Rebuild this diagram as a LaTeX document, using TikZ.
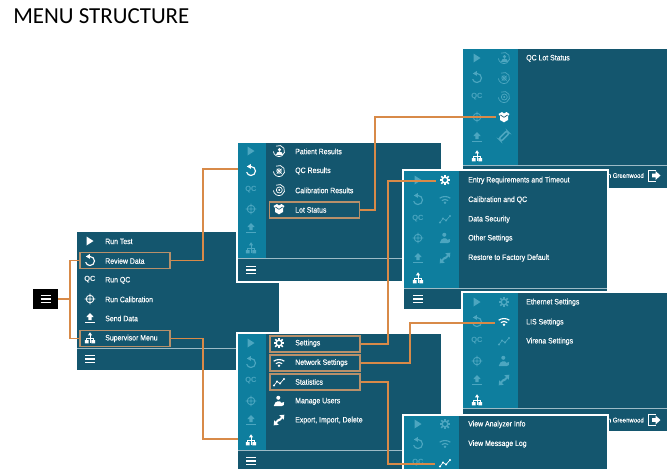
\documentclass[tikz,border=0pt]{standalone}
\usepackage{fontspec}
\setmainfont{Liberation Sans}
\newfontfamily\titlefont{Carlito}
\newfontfamily\rowfont[FakeStretch=0.88,FakeBold=0.1]{Liberation Sans}
\definecolor{panelc}{HTML}{14566E}
\definecolor{sidec}{HTML}{0E7E9E}
\definecolor{sidedark}{HTML}{0E7E9E}
\definecolor{fadec}{HTML}{4CA6C0}
\definecolor{sepc}{HTML}{9DBBC6}
\definecolor{connc}{HTML}{D88A48}
\definecolor{boxc}{HTML}{B8906A}
\tikzset{
  panel/.style={fill=panelc,draw=none},
  whitep/.style={fill=white,draw=none},
  sidep/.style={fill=sidec,draw=none},
  sidepb/.style={fill=sidedark,draw=none},
  sepl/.style={draw=sepc,line width=.6pt},
  hbox/.style={draw=boxc,line width=1.2pt,fill=none,minimum width=67.5pt,minimum height=12pt,inner sep=0pt},
  conn/.style={draw=connc,line width=.8pt},
  rowt/.style={text=white,font=\fontsize{5.9pt}{6pt}\rowfont,anchor=west,inner sep=0pt,yshift=-.3pt},
  namet/.style={text=white,font=\fontsize{5.1pt}{6pt}\rowfont,anchor=east,inner sep=0pt},
  qct/.style={font=\fontsize{5.6pt}{6pt}\selectfont\bfseries,inner sep=0pt},
}
\newcommand{\iplay}[3]{\fill[#3] (#1-3.5,#2-4.5) -- (#1+3.5,#2) -- (#1-3.5,#2+4.5) -- cycle;}
\newcommand{\iundo}[3]{\begin{scope}[shift={(#1,#2)}]\draw[#3,line width=.85pt] (0,-4.5) arc (-90:165:4.5);\fill[#3] (-4.2,-4.5) -- (-0.2,-7) -- (-0.2,-2.2) -- cycle;\end{scope}}
\newcommand{\iqc}[3]{\node[qct,text=#3] at (#1,#2) {QC};}
\newcommand{\itarget}[3]{\begin{scope}[shift={(#1,#2)}]\draw[#3,line width=.65pt] (0,0) circle (3.8) (-5.3,0) -- (5.3,0) (0,-5.3) -- (0,5.3);\end{scope}}
\newcommand{\iupload}[3]{\begin{scope}[shift={(#1,#2)}]\fill[#3] (0,-5) -- (3.7,-1) -- (1.6,-1) -- (1.6,2.2) -- (-1.6,2.2) -- (-1.6,-1) -- (-3.7,-1) -- cycle;\draw[#3,line width=.55pt] (-5,4.7) -- (5,4.7);\end{scope}}
\newcommand{\ihier}[3]{\begin{scope}[shift={(#1,#2)},scale=.72]\fill[#3] (0,-8) -- (3,-3.5) -- (-3,-3.5) -- cycle (-7,3) rectangle (-2,7.5) (2,3) rectangle (7,7.5);\draw[#3,line width=.5pt] (-4.5,3) -- (-4.5,0) -- (4.5,0) -- (4.5,3) (0,-3.5) -- (0,7);\end{scope}}
\newcommand{\iburger}[2]{\begin{scope}[shift={(#1,#2)}]\draw[white,line width=1pt] (-5,-3.5) -- (5,-3.5) (-5,0) -- (5,0) (-5,3.5) -- (5,3.5);\end{scope}}
\newcommand{\igear}[3]{\begin{scope}[shift={(#1,#2)}]\draw[#3,line width=1.1pt] (0,0) circle (2.9);\foreach \a in {0,45,...,315}{\draw[#3,line width=1.15pt] (\a:3.3) -- (\a:5.3);}\end{scope}}
\newcommand{\iwifi}[3]{\begin{scope}[shift={(#1,#2)}]\draw[#3,line width=.85pt] (-5.3,-1.8) .. controls (-2.5,-4) and (2.5,-4) .. (5.3,-1.8) (-3.2,.6) .. controls (-1.6,-1) and (1.6,-1) .. (3.2,.6);\fill[#3] (0,2.8) circle (1.4);\end{scope}}
\newcommand{\istats}[3]{\begin{scope}[shift={(#1,#2)}]\draw[#3,line width=.5pt] (-5,3.5) -- (-2,-.5) -- (1,1.5) -- (5,-3);\fill[#3] (-5,3.5) circle (1.1) (-2,-.5) circle (1.1) (1,1.5) circle (1.1) (5,-3) circle (1.1);\end{scope}}
\newcommand{\iusers}[3]{\begin{scope}[shift={(#1,#2)},scale=.72]\fill[#3] (-1,-4.5) circle (2.8) (-7,6) .. controls (-6,-1) and (3,-1) .. (3,2.5) -- (7,1.5) .. controls (8,5) and (6,7) .. (4,7) -- (-7,7) -- cycle;\end{scope}}
\newcommand{\iexport}[3]{\begin{scope}[shift={(#1,#2)}]\fill[#3] (5.3,-5.3) -- (.3,-4.8) -- (4.8,-.3) -- cycle;\fill[#3] (-5.3,5.3) -- (-.3,4.8) -- (-4.8,.3) -- cycle;\draw[#3,line width=1.4pt] (3,-2.5) -- (0,.5) (-3,2.5) -- (0,-.5);\end{scope}}
\newcommand{\ipatient}[3]{\begin{scope}[shift={(#1,#2)}]\draw[#3,line width=.55pt] (-120:5.6) arc (-120:175:5.6);\fill[#3] (.5,-1.4) circle (1.7) (-3,4) .. controls (-3,-.5) and (4,-.5) .. (4,4) -- cycle;\end{scope}}
\newcommand{\iqcres}[3]{\begin{scope}[shift={(#1,#2)}]\draw[#3,line width=.55pt] (-120:5.6) arc (-120:175:5.6);\draw[#3,line width=.55pt] (-2.2,-2.2) -- (2.6,2.6) (2.6,-2.2) -- (-2.2,2.6);\draw[#3,line width=.55pt] (0,0) circle (2.2);\end{scope}}
\newcommand{\icalres}[3]{\begin{scope}[shift={(#1,#2)}]\draw[#3,line width=.55pt] (-120:5.6) arc (-120:175:5.6);\draw[#3,line width=.55pt] (0.3,0) circle (3);\fill[#3] (0.3,0) circle (1.1);\end{scope}}
\newcommand{\ilot}[3]{\begin{scope}[shift={(#1,#2)}]\fill[#3] (-5.5,-3) -- (-2,-5) -- (0,-3.5) -- (2.5,-5) -- (5.5,-3) -- (4,-1) -- (4,3) -- (0,5.3) -- (-4,3) -- (-4,-1) -- cycle;\draw[panelc,line width=.5pt] (-3.6,-2) -- (0,0.3) -- (3.6,-2);\end{scope}}
\newcommand{\ilink}[3]{\begin{scope}[shift={(#1,#2)},rotate=45]\draw[#3,line width=1.2pt,rounded corners=1.5pt] (-5.6,-1.8) rectangle (5.6,1.8);\end{scope}}
\newcommand{\iexit}[2]{\begin{scope}[shift={(#1,#2)}]\draw[white,line width=.6pt] (2,-5.5) -- (-5.5,-5.5) -- (-5.5,5.5) -- (2,5.5);\fill[white] (-2,-1.8) -- (1.5,-1.8) -- (1.5,-4.5) -- (6.5,0) -- (1.5,4.5) -- (1.5,1.8) -- (-2,1.8) -- cycle;\end{scope}}
\begin{document}
\begin{tikzpicture}[x=.75pt,y=-.75pt]
\useasboundingbox (0,0) rectangle (670,469);
\fill[white] (0,0) rectangle (670,469);
\node[anchor=west,inner sep=0pt,font=\fontsize{17.2pt}{18pt}\selectfont\titlefont] (title) at (13,16.5) {MENU STRUCTURE};

% main panel
\fill[panel] (77,232) rectangle (279,370);
\draw[sepl] (77,348) -- (279,348);
\iplay{90}{241}{white}
\iundo{90}{261}{white}
\iqc{90}{280}{white}
\itarget{90}{299}{white}
\iupload{90}{318}{white}
\ihier{90}{338}{white}
\iburger{90}{359}
\node[rowt] (mi1) at (105,241) {Run Test};
\node[rowt] (mi2) at (105,260.5) {Review Data};
\node[rowt] (mi3) at (105,280) {Run QC};
\node[rowt] (mi4) at (105,299) {Run Calibration};
\node[rowt] (mi5) at (105,318) {Send Data};
\node[rowt] (mi6) at (105,338) {Supervisor Menu};

% panel B Review data
\fill[whitep] (236,141) rectangle (441,283);
\fill[panel] (238,143) rectangle (441,281);
\fill[sidep] (238,143) rectangle (265.5,258);
\draw[sepl] (238,258) -- (441,258);
\iplay{251}{151}{fadec}
\iundo{251}{171}{white}
\iqc{251}{190}{fadec}
\itarget{251}{209}{fadec}
\iupload{251}{228}{fadec}
\ihier{251}{248}{fadec}
\iburger{251}{270}
\ipatient{279}{151}{white}
\iqcres{279}{171}{white}
\icalres{279}{190}{white}
\ilot{279}{209}{white}
\node[rowt] (bi1) at (295,151) {Patient Results};
\node[rowt] (bi2) at (295,170.5) {QC Results};
\node[rowt] (bi3) at (295,190) {Calibration Results};
\node[rowt] (bi4) at (295,209.5) {Lot Status};

% panel C Supervisor
\fill[whitep] (236,332) rectangle (441,469);
\fill[panel] (238,334) rectangle (441,469);
\fill[sidep] (238,334) rectangle (265.5,450);
\draw[sepl] (238,450) -- (441,450);
\iplay{251}{343}{fadec}
\iundo{251}{363}{fadec}
\iqc{251}{381}{fadec}
\itarget{251}{401}{fadec}
\iupload{251}{420}{fadec}
\ihier{251}{440}{white}
\iburger{251}{461}
\igear{279}{343}{white}
\iwifi{279}{363}{white}
\istats{279}{382}{white}
\iusers{279}{401}{white}
\iexport{279}{420}{white}
\node[rowt] (ci1) at (295,343) {Settings};
\node[rowt] (ci2) at (295,362.5) {Network Settings};
\node[rowt] (ci3) at (295,381.5) {Statistics};
\node[rowt] (ci4) at (295,401) {Manage Users};
\node[rowt] (ci5) at (295,420) {Export, Import, Delete};

% panel D Lot status
\fill[panel] (463,49) rectangle (667,188);
\fill[sidep] (463,49) rectangle (490.5,165);
\fill[sidepb] (491,49) rectangle (518,165);
\draw[sepl] (463,165) -- (667,165);
\iplay{477}{58}{fadec}
\iundo{477}{78}{fadec}
\iqc{477}{97}{fadec}
\itarget{477}{117}{fadec}
\iupload{477}{137}{fadec}
\ihier{477}{156}{white}
\ipatient{504}{58}{fadec}
\iqcres{504}{78}{fadec}
\icalres{504}{97}{fadec}
\ilot{504}{117}{white}
\ilink{504}{136}{fadec}
\node[rowt] (di1) at (526,58) {QC Lot Status};
\node[namet] (dname) at (644,175.5) {n Greenwood};
\iexit{654}{175.5}

% panel E Settings
\fill[whitep] (402,169) rectangle (609,293);
\fill[whitep] (402,293) rectangle (463,311);
\fill[panel] (404,171) rectangle (607,291);
\fill[panel] (404,291) rectangle (461,309);
\fill[sidep] (404,171) rectangle (431.5,288);
\fill[sidepb] (432,171) rectangle (459,288);
\draw[sepl] (404,288) -- (607,288);
\iplay{418}{180}{fadec}
\iundo{418}{200}{fadec}
\iqc{418}{219}{fadec}
\itarget{418}{238}{fadec}
\iupload{418}{258}{fadec}
\ihier{418}{278}{white}
\igear{445}{180}{white}
\iwifi{445}{200}{fadec}
\istats{445}{219}{fadec}
\iusers{445}{238}{fadec}
\iexport{445}{258}{fadec}
\iburger{418}{299}
\node[rowt] (ei1) at (468,180) {Entry Requirements and Timeout};
\node[rowt] (ei2) at (468,199.5) {Calibration and QC};
\node[rowt] (ei3) at (468,219) {Data Security};
\node[rowt] (ei4) at (468,238) {Other Settings};
\node[rowt] (ei5) at (468,257.5) {Restore to Factory Default};

% panel F Network settings
\fill[whitep] (461,291) rectangle (667,431);
\fill[panel] (463,293) rectangle (667,431);
\fill[sidep] (463,293) rectangle (490.5,408);
\fill[sidepb] (491,293) rectangle (518,408);
\draw[sepl] (463,408) -- (667,408);
\iplay{477}{302}{fadec}
\iundo{477}{322}{fadec}
\iqc{477}{341}{fadec}
\itarget{477}{361}{fadec}
\iupload{477}{380}{fadec}
\ihier{477}{400}{white}
\igear{504}{302}{fadec}
\iwifi{504}{322}{white}
\istats{504}{341}{fadec}
\iusers{504}{361}{fadec}
\iexport{504}{380}{fadec}
\node[rowt] (fi1) at (526,302) {Ethernet Settings};
\node[rowt] (fi2) at (526,322) {LIS Settings};
\node[rowt] (fi3) at (526,341) {Virena Settings};
\node[namet] (fname) at (644,420) {n Greenwood};
\iexit{654}{420}

% panel G Statistics
\fill[whitep] (402,414) rectangle (609,469);
\fill[panel] (404,416) rectangle (607,469);
\fill[sidep] (404,416) rectangle (431.5,469);
\fill[sidepb] (432,416) rectangle (459,469);
\iplay{418}{424}{fadec}
\iundo{418}{444}{fadec}
\iqc{418}{463}{fadec}
\igear{445}{424}{fadec}
\iwifi{445}{444}{fadec}
\istats{445}{463}{white}
\node[rowt] (gi1) at (468,424) {View Analyzer Info};
\node[rowt] (gi2) at (468,443.5) {View Message Log};

% hamburger key
\node[fill=black,minimum width=18.75pt,minimum height=15pt,inner sep=0pt] (menukey) at (45.5,299) {};
\iburger{45.5}{299}

% highlight boxes
\node[hbox] (brev) at (125,260.5) {};
\node[hbox] (bsup) at (125,338.5) {};
\node[hbox] (blot) at (314.5,210) {};
\node[hbox] (bset) at (315,344) {};
\node[hbox] (bnet) at (315,363) {};
\node[hbox] (bsta) at (315,382) {};

% connector ends
\coordinate (jkey) at (70,299);
\coordinate (tRev) at (238,169);
\coordinate (tSup) at (238,439);
\coordinate (tLot) at (496,117);
\coordinate (tSet) at (436,181);
\coordinate (tNet) at (495,323);
\coordinate (tSta) at (435,464);
\coordinate (xA) at (203,0);
\coordinate (xB) at (375,0);
\coordinate (xC) at (388,0);
\coordinate (xD) at (410,0);

\draw[conn] (menukey.east) -- (jkey);
\draw[conn] (brev.west) -| (jkey) |- (bsup.west);
\draw[conn] (brev.east) -| (xA |- tRev) -- (tRev);
\draw[conn] (bsup.east) -| (xA |- tSup) -- (tSup);
\draw[conn] (blot.east) -| (xB |- tLot) -- (tLot);
\draw[conn] (bset.east) -| (xC |- tSet) -- (tSet);
\draw[conn] (bnet.east) -| (xD |- tNet) -- (tNet);
\draw[conn] (bsta.east) -| (xC |- tSta) -- (tSta);
\end{tikzpicture}
\end{document}
